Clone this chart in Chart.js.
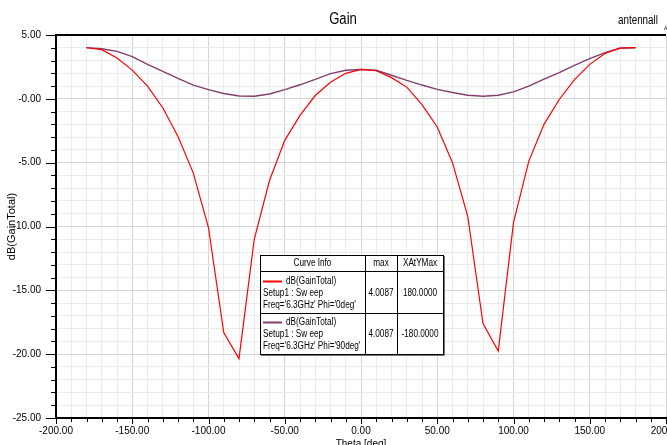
<!DOCTYPE html>
<html>
<head>
<meta charset="utf-8">
<script src="https://cdn.jsdelivr.net/npm/chart.js@4.4.1/dist/chart.umd.min.js"></script>
<style>
  html, body { margin: 0; padding: 0; background: #fff; }
  #wrap { width: 667px; height: 445px; overflow: hidden; position: relative; background: #fff; }
  canvas { display: block; }
</style>
</head>
<body>
<div id="wrap"><canvas id="c" width="700" height="460"></canvas></div>
<script>
// ---- data ----
const theta = [-180,-170,-160,-150,-140,-130,-120,-110,-100,-90,-80,-70,-60,-50,-40,-30,-20,-10,0,
               10,20,30,40,50,60,70,80,90,100,110,120,130,140,150,160,170,180];
const gainPhi0 = [4.0,3.85,3.2,2.25,1.0,-0.7,-2.95,-5.8,-10.1,-18.3,-20.35,-11.0,-6.4,-3.25,-1.3,0.26,1.3,2.0,2.3,
                  2.2,1.66,0.92,-0.45,-2.2,-5.0,-9.2,-17.6,-19.75,-9.7,-4.9,-2.0,-0.05,1.5,2.7,3.55,3.97,4.0087];
const gainPhi90 = [4.0087,3.92,3.72,3.3,2.7,2.15,1.6,1.08,0.72,0.42,0.22,0.2,0.38,0.72,1.1,1.52,1.98,2.24,2.3,
                   2.24,1.85,1.45,1.08,0.74,0.5,0.28,0.2,0.28,0.55,1.0,1.55,2.05,2.62,3.15,3.62,3.98,4.0];
const xTickValues = [-200,-150,-100,-50,0,50,100,150,200];
const xTickLabels = ['-200.00','-150.00','-100.00','-50.00','0.00','50.00','100.00','150.00','200.00'];
const yTickValues = [5,0,-5,-10,-15,-20,-25];
const yTickLabels = ['5.00','-0.00','-5.00','-10.00','-15.00','-20.00','-25.00'];
const seriesNames = ['dB(GainTotal)','dB(GainTotal)'];
const seriesSetup = ['Setup1 : Sw eep','Setup1 : Sw eep'];
const seriesFreq = ["Freq='6.3GHz' Phi='0deg'","Freq='6.3GHz' Phi='90deg'"];
const seriesMax = ['4.0087','4.0087'];
const seriesXAtYMax = ['180.0000','-180.0000'];
const legendHeaders = ['Curve Info','max','XAtYMax'];

const FONT = "'Liberation Sans', Arial, sans-serif";
const RED = 'rgb(255,0,0)';
const PURPLE = 'rgb(132,62,108)';
const colors = [RED, PURPLE];
const NARROW = 0.82;

function pts(ys){ return theta.map((t,i)=>({x:t,y:ys[i]})); }

// condensed text helper (horizontal squeeze like the original narrow font)
function nText(ctx, txt, x, y, align){
  ctx.save();
  ctx.translate(x, y);
  ctx.scale(NARROW, 1);
  ctx.textAlign = align;
  ctx.fillText(txt, 0, 0);
  ctx.restore();
}

const decor = {
  id: 'decor',
  beforeDatasetsDraw(chart){
    const {ctx, chartArea:a, scales} = chart;
    ctx.save();
    ctx.strokeStyle = '#000'; ctx.lineWidth = 2;
    ctx.beginPath(); ctx.moveTo(a.left, a.top); ctx.lineTo(a.right, a.top); ctx.stroke();
    ctx.lineWidth = 1;
    const ys = scales.y, xs = scales.x;
    for (let v = -25; v <= 5; v += 1) {
      const py = Math.round(ys.getPixelForValue(v)) + 0.5;
      const len = (v % 5 === 0) ? 10 : 5;
      ctx.beginPath(); ctx.moveTo(a.left - len, py); ctx.lineTo(a.left, py); ctx.stroke();
    }
    for (let v = -200; v <= 200; v += 10) {
      const px = Math.round(xs.getPixelForValue(v)) + 0.5;
      const len = (v % 50 === 0) ? 6 : 4;
      ctx.beginPath(); ctx.moveTo(px, a.bottom); ctx.lineTo(px, a.bottom + len); ctx.stroke();
    }
    ctx.restore();
  },
  afterDraw(chart){
    const {ctx} = chart;
    ctx.save();
    ctx.fillStyle = '#000';
    ctx.textBaseline = 'middle';
    ctx.font = '16px ' + FONT;
    nText(ctx, 'Gain', 343, 20, 'center');
    ctx.font = '12px ' + FONT;
    nText(ctx, 'antennall', 618, 21, 'left');
    ctx.font = '6px ' + FONT;
    nText(ctx, 'A', 664, 28, 'left');

    // legend table
    const L = 260, T = 255, R = 443, B = 354;
    const c1 = 365, c2 = 397, h1 = 271, h2 = 313;
    ctx.fillStyle = '#fff';
    ctx.fillRect(L, T, R - L, B - T);
    ctx.strokeStyle = '#777'; ctx.lineWidth = 1;
    ctx.beginPath();
    ctx.moveTo(R + 1.5, T + 1); ctx.lineTo(R + 1.5, B + 1.5); ctx.lineTo(L + 1, B + 1.5);
    ctx.stroke();
    ctx.strokeStyle = '#000';
    ctx.strokeRect(L + 0.5, T + 0.5, R - L, B - T);
    ctx.beginPath();
    ctx.moveTo(c1 + 0.5, T); ctx.lineTo(c1 + 0.5, B);
    ctx.moveTo(c2 + 0.5, T); ctx.lineTo(c2 + 0.5, B);
    ctx.moveTo(L, h1 + 0.5); ctx.lineTo(R, h1 + 0.5);
    ctx.moveTo(L, h2 + 0.5); ctx.lineTo(R, h2 + 0.5);
    ctx.stroke();

    ctx.fillStyle = '#000';
    ctx.font = '10px ' + FONT;
    nText(ctx, legendHeaders[0], (L + c1) / 2, 263, 'center');
    nText(ctx, legendHeaders[1], (c1 + c2) / 2, 263, 'center');
    nText(ctx, legendHeaders[2], (c2 + R) / 2, 263, 'center');

    const rowY = [281, 322];
    for (let i = 0; i < 2; i++) {
      const y0 = rowY[i];
      ctx.strokeStyle = colors[i]; ctx.lineWidth = 2;
      ctx.beginPath(); ctx.moveTo(263, y0 + 0.5); ctx.lineTo(282, y0 + 0.5); ctx.stroke();
      ctx.fillStyle = '#000';
      nText(ctx, seriesNames[i], 286, y0, 'left');
      nText(ctx, seriesSetup[i], 263, y0 + 12, 'left');
      nText(ctx, seriesFreq[i], 263, y0 + 24, 'left');
      nText(ctx, seriesMax[i], (c1 + c2) / 2, y0 + 12, 'center');
      nText(ctx, seriesXAtYMax[i], (c2 + R) / 2, y0 + 12, 'center');
    }
    ctx.restore();
  }
};

new Chart(document.getElementById('c'), {
  type: 'line',
  data: {
    datasets: [
      { label: 'Phi=0deg', data: pts(gainPhi0), borderColor: RED, borderWidth: 1.2, pointRadius: 0, tension: 0, fill: false },
      { label: 'Phi=90deg', data: pts(gainPhi90), borderColor: PURPLE, borderWidth: 1.4, pointRadius: 0, tension: 0, fill: false }
    ]
  },
  options: {
    responsive: false,
    animation: false,
    events: [],
    layout: { padding: { top: 35, left: 0, right: 34, bottom: 0 } },
    plugins: { legend: { display: false }, title: { display: false }, tooltip: { enabled: false } },
    scales: {
      x: {
        type: 'linear', min: -200, max: 200,
        afterFit(s){ s.height = 42; },
        afterBuildTicks(s){ const t = []; for (let v = -200; v <= 200; v += 10) t.push({value: v}); s.ticks = t; },
        ticks: {
          autoSkip: false, maxRotation: 0, minRotation: 0, padding: 7, color: '#000',
          font: { family: FONT, size: 10 },
          callback(v){ const i = xTickValues.indexOf(v); return i >= 0 ? xTickLabels[i] : ''; }
        },
        grid: {
          drawTicks: false,
          color(c){ return (c.tick && c.tick.value % 50 === 0) ? '#d4d4d4' : '#ebebeb'; },
          lineWidth: 1
        },
        border: { display: true, color: '#000', width: 2 },
        title: { display: true, text: 'Theta [deg]', color: '#000', font: { family: FONT, size: 10 }, padding: { top: 0, bottom: 10 } }
      },
      y: {
        type: 'linear', min: -25, max: 5,
        afterFit(s){ s.width = 56; },
        afterBuildTicks(s){ const t = []; for (let v = 5; v >= -25; v -= 1) t.push({value: v}); s.ticks = t; },
        ticks: {
          autoSkip: false, padding: 15, color: '#000',
          font: { family: FONT, size: 10 },
          callback(v){ const i = yTickValues.indexOf(v); return i >= 0 ? yTickLabels[i] : ''; }
        },
        grid: {
          drawTicks: false,
          color(c){ return (c.tick && c.tick.value % 5 === 0) ? '#d4d4d4' : '#ebebeb'; },
          lineWidth: 1
        },
        border: { display: true, color: '#000', width: 2 },
        title: { display: true, text: 'dB(GainTotal)', color: '#000', font: { family: FONT, size: 11 }, padding: { top: 5, bottom: 0 } }
      }
    }
  },
  plugins: [decor]
});
</script>
</body>
</html>
